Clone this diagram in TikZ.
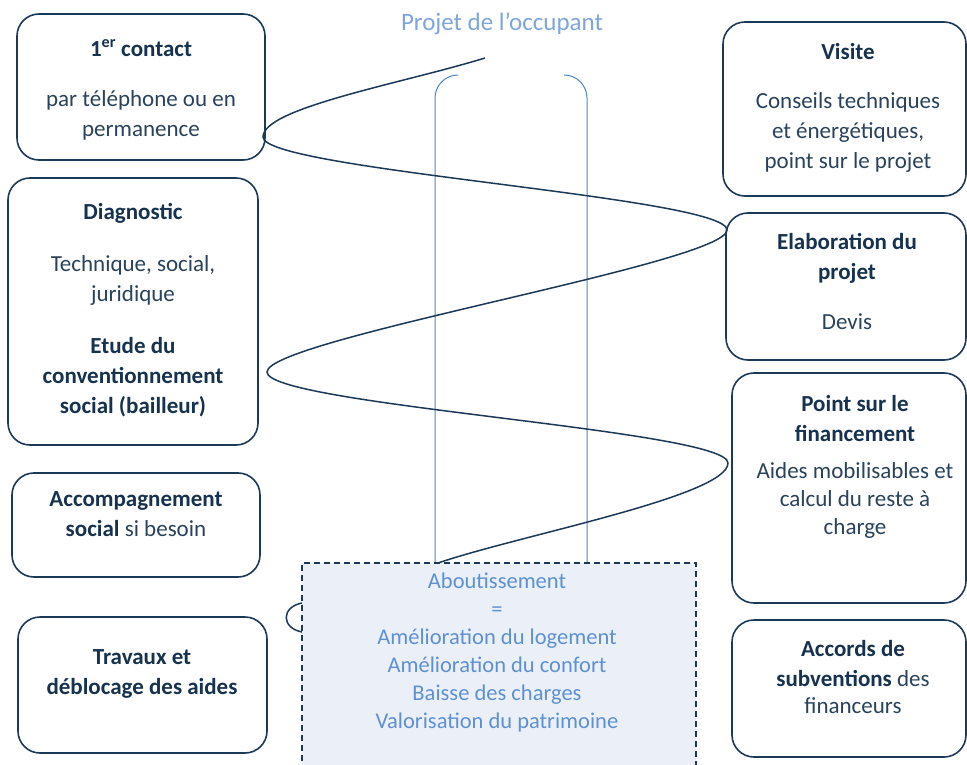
\documentclass[tikz,border=0pt]{standalone}
\usepackage{fontspec}
\setmainfont{Carlito}
\definecolor{navy}{HTML}{1C3A57}
\definecolor{navytext}{HTML}{17324E}
\definecolor{greytext}{HTML}{2A425C}
\definecolor{lightblue}{HTML}{5E90D2}
\definecolor{titleblue}{HTML}{7EA6DC}
\definecolor{vline}{HTML}{4F86C6}
\definecolor{boxfill}{HTML}{EBF0F8}
\tikzset{
  stepbox/.style={draw=navy, line width=1.6pt, rounded corners=22pt, inner sep=0pt},
  boxtext/.style={anchor=base, align=center, text=greytext, font=\fontsize{23}{30}\selectfont},
  spiral/.style={draw=navy, line width=1.5pt},
  guide/.style={draw=vline, line width=1pt, rounded corners=23pt},
  outbox/.style={draw=navy, line width=1.6pt, dash pattern=on 6pt off 4pt, fill=boxfill, inner sep=0pt},
}
\newcommand{\tb}[1]{\textbf{\color{navytext}#1}}
\begin{document}
\begin{tikzpicture}[x=1pt,y=-1pt]
\useasboundingbox (0,0) rectangle (967,765);
\clip (0,0) rectangle (967,765);
\fill[white] (0,0) rectangle (967,765);

% boxes
\node[stepbox, minimum width=248pt, minimum height=146pt] (c1) at (141,87) {};
\node[stepbox, minimum width=250pt, minimum height=267pt] (diag) at (133,311.5) {};
\node[stepbox, minimum width=248pt, minimum height=104pt] (acc) at (136,525) {};
\node[stepbox, minimum width=249pt, minimum height=136pt] (trav) at (142.5,685) {};
\node[stepbox, minimum width=243pt, minimum height=174pt] (vis) at (844.5,109) {};
\node[stepbox, minimum width=240pt, minimum height=147pt] (elab) at (846,286.5) {};
\node[stepbox, minimum width=234pt, minimum height=230pt] (fin) at (849,488) {};
\node[stepbox, minimum width=234pt, minimum height=137pt] (acco) at (849,688.5) {};

% texts (anchor = baseline of last line)
\node[boxtext] (c1t) at (141,137) {\tb{1\textsuperscript{er} contact}\\[20pt]par téléphone ou en\\permanence};
\node[boxtext] (diagt) at (133,413) {\tb{Diagnostic}\\[22pt]Technique, social,\\juridique\\[22pt]\tb{Etude du}\\\tb{conventionnement}\\\tb{social (bailleur)}};
\node[boxtext] (acct) at (136,536) {\tb{Accompagnement}\\\tb{social} si besoin};
\node[boxtext] (travt) at (142,694) {\tb{Travaux et}\\\tb{déblocage des aides}};
\node[boxtext] (vist) at (848,169) {\tb{Visite}\\[20pt]Conseils techniques\\et énergétiques,\\point sur le projet};
\node[boxtext] (elabt) at (847,329) {\tb{Elaboration du}\\\tb{projet}\\[20pt]Devis};
\node[boxtext] (fint) at (855,534) {\tb{Point sur le}\\\tb{financement}\\[7pt]Aides mobilisables et\\[-2pt]calcul du reste à\\[-2pt]charge};
\node[boxtext] (accot) at (853,713) {\tb{Accords de}\\\tb{subventions} des\\[-3pt]financeurs};

% title
\node[anchor=base, text=titleblue, font=\fontsize{25}{30}\selectfont] (title) at (502,31) {Projet de l’occupant};

% guide lines
\coordinate (g1b) at (435,563);
\coordinate (g2b) at (587,563);
\draw[guide] (g1b) -- (435,75) -- (458,75);
\draw[guide] (g2b) -- (587,75) -- (564,75);

% spiral
\coordinate (s0) at (485,58);
\coordinate (t1) at (263,137);
\coordinate (t2) at (727,230);
\coordinate (t3) at (267,372);
\coordinate (t4) at (728,463);
\coordinate (se) at (438,563);
\draw[spiral] (s0) .. controls (400,84) and (263,108) .. (t1)
  .. controls (263,170) and (727,197) .. (t2)
  .. controls (727,263) and (267,339) .. (t3)
  .. controls (267,405) and (728,430) .. (t4)
  .. controls (728,496) and (520,535) .. (se);

% small arc at left of the result box
\coordinate (a1) at (302,603);
\coordinate (a2) at (302,632);
\draw[spiral] (a1) .. controls (281,607) and (281,628) .. (a2);

% result box
\node[outbox, minimum width=394pt, minimum height=240pt] (abou) at (499,683) {};
\node[anchor=base, align=center, text=lightblue, font=\fontsize{22.5}{28}\selectfont] (aboutt) at (497,728) {Aboutissement\\=\\Amélioration du logement\\Amélioration du confort\\Baisse des charges\\Valorisation du patrimoine};
\end{tikzpicture}
\end{document}
